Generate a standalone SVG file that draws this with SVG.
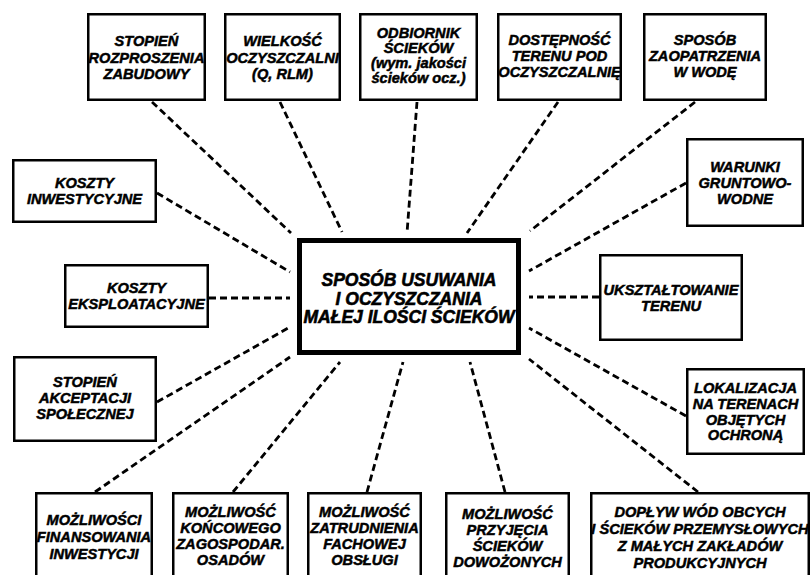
<svg xmlns="http://www.w3.org/2000/svg" width="811" height="575" viewBox="0 0 811 575">
<style>
.box{fill:#fff;stroke:#000;stroke-width:2.5}
.main{fill:#fff;stroke:#000;stroke-width:5}
.t{font-family:"Liberation Sans",Arial,sans-serif;font-weight:bold;font-style:italic;font-size:14.6px;fill:#000;stroke:#000;stroke-width:0.5;text-anchor:middle}
.tm{font-size:17.5px;stroke-width:0.6}
.c line{stroke:#000;stroke-width:2.8;stroke-dasharray:7 4;fill:none}
</style>
<rect width="811" height="575" fill="#fff"/>
<g id="connectors" class="c">
<line x1="152" y1="102" x2="291" y2="233"/>
<line x1="280" y1="102" x2="342" y2="232"/>
<line x1="417" y1="102" x2="407" y2="233"/>
<line x1="558" y1="102" x2="467" y2="233"/>
<line x1="695" y1="102" x2="530" y2="231"/>
<line x1="686" y1="183" x2="529" y2="271"/>
<line x1="599" y1="297" x2="529" y2="297"/>
<line x1="686" y1="416" x2="529" y2="328"/>
<line x1="698" y1="492" x2="529" y2="359"/>
<line x1="505" y1="492" x2="470" y2="362"/>
<line x1="367" y1="492" x2="403" y2="362"/>
<line x1="233" y1="492" x2="340" y2="362"/>
<line x1="95" y1="492" x2="290" y2="357"/>
<line x1="157" y1="402" x2="290" y2="327"/>
<line x1="209" y1="298" x2="290" y2="298"/>
<line x1="157" y1="193" x2="290" y2="272"/>
</g>
<g id="center">
<rect class="main" x="299.5" y="240.5" width="219" height="112"/>
<text class="t tm"><tspan x="409" y="286">SPOSÓB USUWANIA</tspan><tspan x="409" y="304.5">I OCZYSZCZANIA</tspan><tspan x="409" y="323">MAŁEJ ILOŚCI ŚCIEKÓW</tspan></text>
</g>
<g id="n-rozproszenie">
<rect class="box" x="88.25" y="14.25" width="116.5" height="85.5"/>
<text class="t"><tspan x="146.5" y="46">STOPIEŃ</tspan><tspan x="146.5" y="62.5">ROZPROSZENIA</tspan><tspan x="146.5" y="79">ZABUDOWY</tspan></text>
</g>
<g id="n-wielkosc">
<rect class="box" x="225.25" y="14.25" width="114.5" height="85.5"/>
<text class="t"><tspan x="282.5" y="46">WIELKOŚĆ</tspan><tspan x="282.5" y="62.5">OCZYSZCZALNI</tspan><tspan x="282.5" y="78.5">(Q, RLM)</tspan></text>
</g>
<g id="n-odbiornik">
<rect class="box" x="360.25" y="14.25" width="116.5" height="85.5"/>
<text class="t"><tspan x="418.5" y="37.5">ODBIORNIK</tspan><tspan x="418.5" y="52.5">ŚCIEKÓW</tspan><tspan x="418.5" y="67.5">(wym. jakości</tspan><tspan x="418.5" y="82.5">ścieków ocz.)</tspan></text>
</g>
<g id="n-dostepnosc">
<rect class="box" x="498.25" y="14.25" width="122.5" height="85.5"/>
<text class="t"><tspan x="559.5" y="45">DOSTĘPNOŚĆ</tspan><tspan x="559.5" y="61">TERENU POD</tspan><tspan x="559.5" y="77">OCZYSZCZALNIĘ</tspan></text>
</g>
<g id="n-zaopatrzenie">
<rect class="box" x="644.25" y="14.25" width="121.5" height="85.5"/>
<text class="t"><tspan x="705" y="45">SPOSÓB</tspan><tspan x="705" y="61">ZAOPATRZENIA</tspan><tspan x="705" y="77">W WODĘ</tspan></text>
</g>
<g id="n-koszty-inw">
<rect class="box" x="13.25" y="160.25" width="142.5" height="61.5"/>
<text class="t"><tspan x="84.5" y="188">KOSZTY</tspan><tspan x="84.5" y="204">INWESTYCYJNE</tspan></text>
</g>
<g id="n-koszty-eks">
<rect class="box" x="65.25" y="265.25" width="142.5" height="61.5"/>
<text class="t"><tspan x="136.5" y="293">KOSZTY</tspan><tspan x="136.5" y="309">EKSPLOATACYJNE</tspan></text>
</g>
<g id="n-akceptacja">
<rect class="box" x="14.25" y="357.25" width="141.5" height="83.5"/>
<text class="t"><tspan x="85" y="387">STOPIEŃ</tspan><tspan x="85" y="403">AKCEPTACJI</tspan><tspan x="85" y="418.5">SPOŁECZNEJ</tspan></text>
</g>
<g id="n-warunki">
<rect class="box" x="687.25" y="139.25" width="115.5" height="86.5"/>
<text class="t"><tspan x="745" y="172">WARUNKI</tspan><tspan x="745" y="188">GRUNTOWO-</tspan><tspan x="745" y="203.5">WODNE</tspan></text>
</g>
<g id="n-uksztaltowanie">
<rect class="box" x="600.25" y="255.25" width="141.5" height="84.5"/>
<text class="t"><tspan x="671" y="295">UKSZTAŁTOWANIE</tspan><tspan x="671" y="311">TERENU</tspan></text>
</g>
<g id="n-lokalizacja">
<rect class="box" x="687.25" y="369.25" width="116.5" height="84.5"/>
<text class="t"><tspan x="745.5" y="393">LOKALIZACJA</tspan><tspan x="745.5" y="409">NA TERENACH</tspan><tspan x="745.5" y="425">OBJĘTYCH</tspan><tspan x="745.5" y="440">OCHRONĄ</tspan></text>
</g>
<g id="n-finansowanie">
<rect class="box" x="36.25" y="493.25" width="115.5" height="90"/>
<text class="t"><tspan x="94" y="525">MOŻLIWOŚCI</tspan><tspan x="94" y="542">FINANSOWANIA</tspan><tspan x="94" y="559">INWESTYCJI</tspan></text>
</g>
<g id="n-osady">
<rect class="box" x="173.25" y="493.25" width="114.5" height="90"/>
<text class="t"><tspan x="230.5" y="517">MOŻLIWOŚĆ</tspan><tspan x="230.5" y="533">KOŃCOWEGO</tspan><tspan x="230.5" y="549">ZAGOSPODAR.</tspan><tspan x="230.5" y="565">OSADÓW</tspan></text>
</g>
<g id="n-obsluga">
<rect class="box" x="308.25" y="493.25" width="112.5" height="90"/>
<text class="t"><tspan x="364.5" y="517">MOŻLIWOŚĆ</tspan><tspan x="364.5" y="533">ZATRUDNIENIA</tspan><tspan x="364.5" y="549">FACHOWEJ</tspan><tspan x="364.5" y="565">OBSŁUGI</tspan></text>
</g>
<g id="n-dowozone">
<rect class="box" x="446.25" y="493.25" width="122.5" height="90"/>
<text class="t"><tspan x="507.5" y="519">MOŻLIWOŚĆ</tspan><tspan x="507.5" y="535">PRZYJĘCIA</tspan><tspan x="507.5" y="551">ŚCIEKÓW</tspan><tspan x="507.5" y="567">DOWOŻONYCH</tspan></text>
</g>
<g id="n-doplyw">
<rect class="box" x="591.25" y="493.25" width="217.5" height="90"/>
<text class="t"><tspan x="700" y="517">DOPŁYW WÓD OBCYCH</tspan><tspan x="700" y="534">I ŚCIEKÓW PRZEMYSŁOWYCH</tspan><tspan x="700" y="551">Z MAŁYCH ZAKŁADÓW</tspan><tspan x="700" y="568">PRODUKCYJNYCH</tspan></text>
</g>
</svg>
